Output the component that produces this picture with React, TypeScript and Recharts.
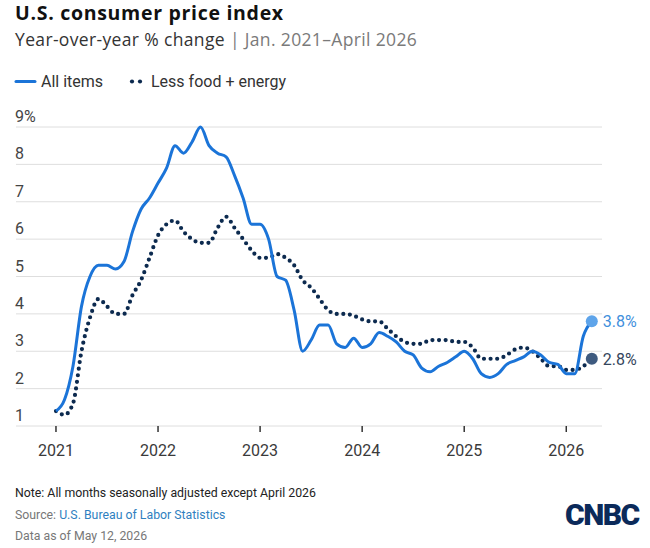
import { CartesianGrid, Line, LineChart, XAxis, YAxis } from "recharts";

// monthly YoY % change, Jan 2021 – Apr 2026
const allItems = [
  1.4, 1.7, 2.6, 4.2, 5.0, 5.3, 5.3, 5.2, 5.4, 6.2, 6.8, 7.1,
  7.5, 7.9, 8.5, 8.3, 8.6, 9.0, 8.5, 8.3, 8.2, 7.7, 7.1, 6.4,
  6.4, 6.0, 5.0, 4.9, 4.1, 3.0, 3.3, 3.7, 3.7, 3.2, 3.1, 3.35,
  3.1, 3.2, 3.5, 3.4, 3.25, 3.0, 2.9, 2.55, 2.45, 2.6, 2.7, 2.85,
  3.0, 2.8, 2.4, 2.3, 2.4, 2.65, 2.75, 2.85, 3.0, 2.9, 2.7, 2.65,
  2.4, 2.4, 3.4, 3.8,
];

const lessFoodEnergy = [
  1.4, 1.3, 1.6, 3.0, 3.9, 4.4, 4.2, 4.0, 4.0, 4.5, 4.9, 5.5,
  6.1, 6.4, 6.5, 6.2, 6.0, 5.9, 5.9, 6.3, 6.6, 6.3, 6.0, 5.7,
  5.5, 5.5, 5.6, 5.5, 5.3, 4.9, 4.7, 4.4, 4.1, 4.0, 4.0, 3.95,
  3.85, 3.8, 3.8, 3.6, 3.4, 3.25, 3.2, 3.2, 3.3, 3.3, 3.3, 3.25,
  3.25, 3.1, 2.8, 2.8, 2.8, 2.9, 3.05, 3.1, 3.0, 2.8, 2.6, 2.6,
  2.5, 2.5, 2.6, 2.8,
];

const yearLabels = ["2021", "2022", "2023", "2024", "2025", "2026"];
const yTicks = [1, 2, 3, 4, 5, 6, 7, 8, 9];

const data = allItems.map((v, i) => ({
  m: i,
  all: v,
  core: lessFoodEnergy[i],
}));

const FONT = "Roboto, 'Open Sans', sans-serif";
const HEAD_FONT = "'Open Sans', Roboto, sans-serif";
const BLUE = "#1b74d8";
const NAVY = "#0c2a4f";
const last = data.length - 1;

const renderYTick = (props: any) => {
  const { y, payload } = props;
  return (
    <text
      key={`yt-${payload.value}`}
      x={15}
      y={y - 5}
      fontSize={16}
      fill="#444"
      fontFamily={FONT}
    >
      {payload.value === 9 ? "9%" : String(payload.value)}
    </text>
  );
};

const endDot = (fill: string, textFill: string, label: string) => (props: any) => {
  const { cx, cy, index } = props;
  if (index !== last) return <g key={`d-${index}`} />;
  return (
    <g key={`d-${index}`}>
      <circle cx={cx} cy={cy} r={6} fill={fill} />
      <text
        x={cx + 11}
        y={cy + 6}
        fontSize={16}
        fill={textFill}
        fontFamily={FONT}
      >
        {label}
      </text>
    </g>
  );
};

export default function App() {
  return (
    <div
      style={{
        position: "absolute",
        left: 0,
        top: 0,
        width: 650,
        height: 548,
        background: "#fff",
        fontFamily: FONT,
      }}
    >
      <LineChart
        width={650}
        height={548}
        data={data}
        margin={{ top: 127, right: 48, bottom: 92, left: 15 }}
      >
        <CartesianGrid stroke="#dedede" vertical={false} />
        <XAxis
          dataKey="m"
          type="number"
          domain={[-4.7, 64.2]}
          ticks={[0, 12, 24, 36, 48, 60]}
          tickFormatter={(v: number) => yearLabels[v / 12]}
          axisLine={false}
          tickLine={{ stroke: "#333", strokeWidth: 1.5 }}
          tickSize={6}
          tickMargin={13}
          height={30}
          tick={{ fontSize: 16, fill: "#3a3a3a", fontFamily: FONT }}
        />
        <YAxis
          width={1}
          domain={[1, 9]}
          ticks={yTicks}
          interval={0}
          axisLine={false}
          tickLine={false}
          tick={renderYTick}
        />
        <Line
          type="monotone"
          dataKey="core"
          stroke={NAVY}
          strokeWidth={4.2}
          strokeDasharray="0 6.6"
          strokeLinecap="round"
          dot={endDot("#3e5a7f", "#34465c", "2.8%")}
          activeDot={false}
          isAnimationActive={false}
        />
        <Line
          type="monotone"
          dataKey="all"
          stroke={BLUE}
          strokeWidth={3}
          dot={endDot("#5ea4ea", "#3f8fdc", "3.8%")}
          activeDot={false}
          isAnimationActive={false}
        />
      </LineChart>

      <svg
        width={650}
        height={548}
        style={{ position: "absolute", left: 0, top: 0, pointerEvents: "none" }}
        fontFamily={FONT}
      >
        <text
          x={15}
          y={20}
          fontSize={19.5}
          fontWeight={700}
          fill="#111"
          fontFamily={HEAD_FONT}
          letterSpacing={0.7}
        >
          U.S. consumer price index
        </text>
        <text
          x={15}
          y={46}
          fontSize={17.5}
          fill="#333"
          fontFamily={HEAD_FONT}
          letterSpacing={0.35}
        >
          Year-over-year % change
          <tspan fill="#7a7a7a"> | Jan. 2021–April 2026</tspan>
        </text>

        <line x1={16} x2={35} y1={81.5} y2={81.5} stroke={BLUE} strokeWidth={3} strokeLinecap="round" />
        <text x={41} y={86.5} fontSize={16} fill="#333">
          All items
        </text>
        <circle cx={132} cy={81.5} r={2.1} fill={NAVY} />
        <circle cx={140} cy={81.5} r={2.1} fill={NAVY} />
        <text x={151} y={86.5} fontSize={16} fill="#333">
          Less food + energy
        </text>

        <text x={15} y={497} fontSize={12.3} fill="#222">
          Note: All months seasonally adjusted except April 2026
        </text>
        <text x={15} y={519} fontSize={12.3} fill="#777">
          Source: <tspan fill="#2f7fc0">U.S. Bureau of Labor Statistics</tspan>
        </text>
        <text x={15} y={540} fontSize={12.3} fill="#777">
          Data as of May 12, 2026
        </text>

        <text
          x={565}
          y={525}
          fontSize={30}
          fontWeight={900}
          fill="#0b2a5a"
          letterSpacing={-1.5}
        >
          CNBC
        </text>
      </svg>
    </div>
  );
}
